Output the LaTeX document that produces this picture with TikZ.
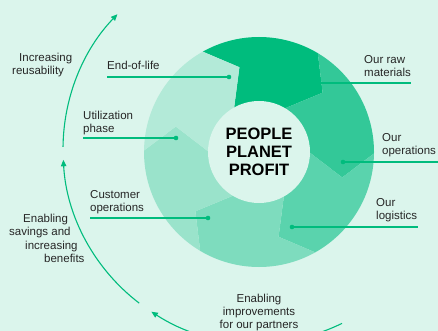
\documentclass[tikz,border=0pt]{standalone}
\usepackage{fontspec}
\setmainfont{Liberation Sans}
\usetikzlibrary{arrows.meta}
\definecolor{bg}{HTML}{DBF5EC}
\definecolor{grn}{HTML}{00BC7D}
\definecolor{segA}{HTML}{00BC7D}
\definecolor{segB}{HTML}{33C898}
\definecolor{segC}{HTML}{5AD3AD}
\definecolor{segD}{HTML}{7EDCBE}
\definecolor{segE}{HTML}{9AE3CB}
\definecolor{segF}{HTML}{B3EAD8}
\definecolor{txt}{HTML}{262626}
\begin{document}
\begin{tikzpicture}[x=1pt,y=-1pt,
  lbl/.style={font=\fontsize{11.5}{13.3}\selectfont, text=txt, inner sep=0pt, align=left},
  conn/.style={draw=grn, line width=1.3pt},
  dotn/.style={circle, fill=grn, inner sep=0pt, minimum size=4.6pt},
  cyc/.style={draw=grn, line width=1.1pt, -{Triangle[length=6.5pt,width=5.5pt]}}]
\useasboundingbox (0,0) rectangle (438,331);
\fill[bg] (0,0) rectangle (438,331);
% ring segments
\begin{scope}[shift={(259,152)}, yscale=-1]
  \clip (0,0) circle (115);
  \foreach \a/\c in {120/segA, 60/segB, 0/segC, -60/segD, -120/segE, 180/segF} {
    \fill[\c] (0,0) -- (\a:50) -- (\a-17:87) -- (\a:117) -- (\a:150) -- (\a-30:175)
      -- (\a-60:150) -- (\a-60:117) -- (\a-77:87) -- (\a-60:50) -- cycle;
  }
  \fill[bg] (0,0) circle (51);
\end{scope}
\node[font=\bfseries\fontsize{16.5}{18}\selectfont, align=center, text=black, inner sep=0pt]
  (ppp) at (259,151.5) {PEOPLE\\PLANET\\PROFIT};
% cycle arcs
\begin{scope}[shift={(257,149)}, yscale=-1]
  \coordinate (a1) at (179.4:194);
  \coordinate (a2) at (232.6:194);
  \coordinate (a3) at (296:194);
  \draw[cyc] (a1) arc[start angle=179.4, end angle=136, radius=194];
  \draw[cyc] (a2) arc[start angle=232.6, end angle=183.2, radius=194];
  \draw[cyc] (a3) arc[start angle=296, end angle=237, radius=194];
\end{scope}
% outer labels
\node[lbl, anchor=base west] (inc1) at (19,61.5) {Increasing};
\node[lbl, anchor=base west] (inc2) at (12,74.5) {reusability};
\node[lbl, anchor=base west] (en1) at (23,222.3) {Enabling};
\node[lbl, anchor=base west] (en2) at (9,235.6) {savings and};
\node[lbl, anchor=base west] (en3) at (25,249) {increasing};
\node[lbl, anchor=base west] (en4) at (44,262.3) {benefits};
\node[lbl, align=center, anchor=north] (imp) at (259,293.5) {Enabling\\improvements\\for our partners};
% inner labels
\node[lbl, anchor=base west] (eol) at (107,70) {End-of-life};
\node[lbl, anchor=north west] (util) at (83,111) {Utilization\\phase};
\node[lbl, anchor=north west] (cust) at (90,190) {Customer\\operations};
\node[lbl, anchor=north west] (raw) at (364,55) {Our raw\\materials};
\node[lbl, anchor=north west] (ops) at (382,133) {Our\\operations};
\node[lbl, anchor=north west] (logi) at (376,198) {Our\\logistics};
% connectors
\node[dotn] (deol) at (229,77) {};
\node[dotn] (dutil) at (176,138) {};
\node[dotn] (dcust) at (208,218) {};
\node[dotn] (draw) at (318,83) {};
\node[dotn] (dops) at (343,162) {};
\node[dotn] (dlog) at (292,227) {};
\coordinate (leol) at (107,77);
\coordinate (lutil) at (83,138);
\coordinate (lcust) at (90,218);
\coordinate (lraw) at (411,83);
\coordinate (lops) at (438,162);
\coordinate (llog) at (418,227);
\draw[conn] (leol) -- (deol.center);
\draw[conn] (lutil) -- (dutil.center);
\draw[conn] (lcust) -- (dcust.center);
\draw[conn] (draw.center) -- (lraw);
\draw[conn] (dops.center) -- (lops);
\draw[conn] (dlog.center) -- (llog);
\end{tikzpicture}
\end{document}
